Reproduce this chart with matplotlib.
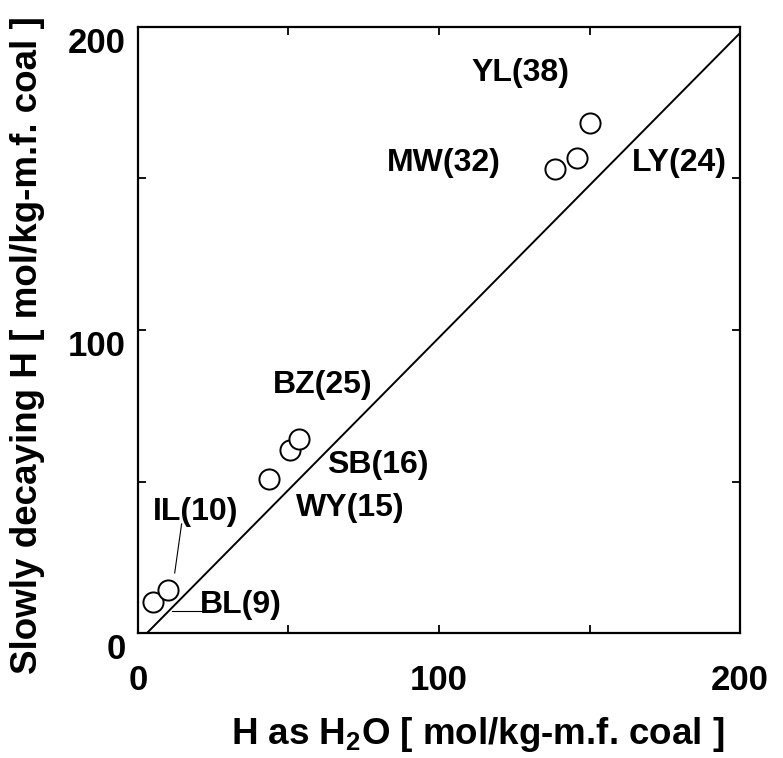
import numpy as np
import matplotlib.pyplot as plt

plt.rcParams['font.family'] = ['Liberation Sans', 'DejaVu Sans']
plt.rcParams['font.weight'] = 'bold'
plt.rcParams['mathtext.fontset'] = 'custom'
plt.rcParams['mathtext.rm'] = 'Liberation Sans:bold'
plt.rcParams['mathtext.it'] = 'Liberation Sans:bold'
plt.rcParams['mathtext.bf'] = 'Liberation Sans:bold'

# H as H2O vs slowly decaying H, both in mol/kg-m.f. coal
h_water = [5.0, 10.0, 43.5, 50.5, 53.5, 138.5, 145.8, 150.2]
h_slow = [10.2, 14.2, 50.8, 60.4, 64.0, 153.1, 156.8, 168.3]

# 1:1 reference line
line_x = [3, 200]
line_y = [0, 198]

# sample labels and where they sit
labels = ['YL(38)', 'MW(32)', 'LY(24)', 'BZ(25)', 'SB(16)', 'WY(15)', 'IL(10)', 'BL(9)']
label_x = [127.0, 101.7, 180.0, 61.5, 79.7, 70.4, 19.3, 34.2]
label_y = [184.8, 155.1, 155.1, 81.8, 55.4, 41.3, 39.9, 9.2]

fig = plt.figure(figsize=(7.83, 7.58), dpi=100)
ax = fig.add_axes([0.1762, 0.1649, 0.7689, 0.7995])

ax.plot(line_x, line_y, color='black', lw=1.4)
ax.plot(h_water, h_slow, 'o', mfc='white', mec='black', ms=14.5, mew=1.4)

for t, x, y in zip(labels, label_x, label_y):
    ax.text(x, y, t, fontsize=23, fontweight='bold', ha='center', va='center')

# leader lines for the two crowded points at the bottom
ax.plot([14.5, 12.2], [36.0, 19.8], color='black', lw=0.8)
ax.plot([11.3, 22.3], [7.3, 7.3], color='black', lw=0.8)

ax.set_xlim(0, 200)
ax.set_ylim(0, 200)
ax.set_xticks([0, 100, 200])
ax.set_yticks([0, 100, 200])
ax.set_xticks([50, 150], minor=True)
ax.set_yticks([50, 150], minor=True)
ax.tick_params(which='both', direction='in', top=True, right=True,
               labelsize=25, width=1.3, length=6)
ax.tick_params(axis='x', pad=22)
ax.tick_params(axis='y', pad=9)
plt.setp(ax.get_yticklabels(), va='top')
for s in ax.spines.values():
    s.set_linewidth(1.6)

ax.set_xlabel('H as H$_2$O [ mol/kg-m.f. coal ]', fontsize=26.5, fontweight='bold', va='center')
ax.set_ylabel('Slowly decaying H [ mol/kg-m.f. coal ]', fontsize=26.5, fontweight='bold', va='center')
ax.xaxis.set_label_coords(0.565, -0.168)
ax.yaxis.set_label_coords(-0.184, 0.475)

fig.savefig('out.png', dpi=100)
